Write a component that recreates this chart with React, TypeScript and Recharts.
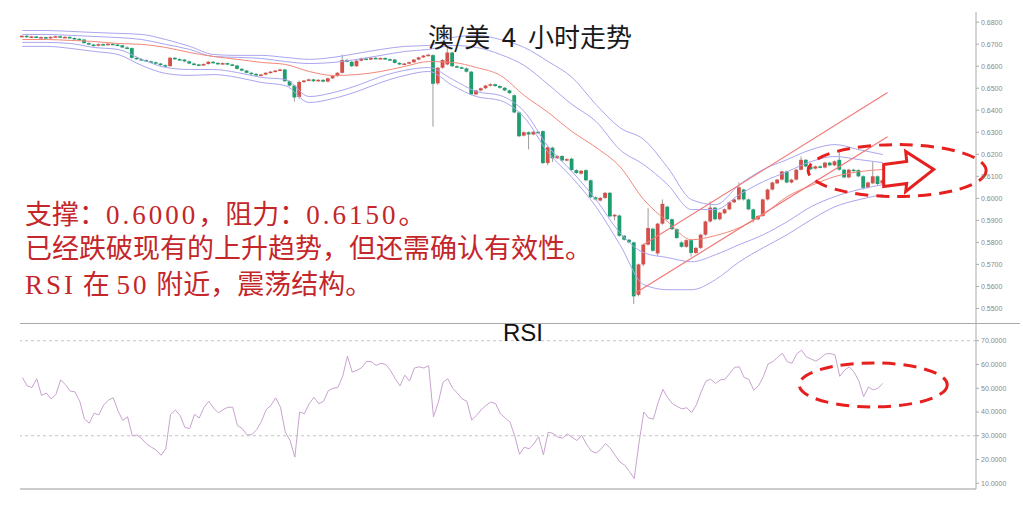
import React from "react";
import { ComposedChart, Bar, Line, XAxis, YAxis, ReferenceLine, ReferenceDot } from "recharts";

// AUD/USD 4h candles, in pips: open, high, low, close
const candles: number[][] = [
  [6735, 6741, 6731, 6738], [6738, 6741, 6730, 6733], [6733, 6738, 6729, 6735], [6735, 6737, 6727, 6730],
  [6730, 6735, 6727, 6732], [6732, 6734, 6724, 6727], [6727, 6736, 6725, 6733], [6733, 6739, 6731, 6736],
  [6736, 6738, 6728, 6731], [6731, 6736, 6729, 6733], [6733, 6735, 6725, 6728], [6728, 6731, 6721, 6724],
  [6724, 6727, 6717, 6721], [6721, 6723, 6702, 6705], [6705, 6708, 6695, 6698], [6698, 6701, 6689, 6693],
  [6693, 6703, 6690, 6700], [6700, 6703, 6694, 6697], [6697, 6705, 6694, 6702], [6702, 6704, 6695, 6698],
  [6698, 6701, 6692, 6695], [6695, 6697, 6682, 6685], [6685, 6690, 6677, 6680], [6682, 6685, 6634, 6638],
  [6638, 6642, 6629, 6632], [6632, 6636, 6625, 6628], [6628, 6631, 6619, 6622], [6622, 6626, 6615, 6618],
  [6618, 6621, 6609, 6612], [6612, 6615, 6602, 6605], [6605, 6608, 6596, 6600], [6600, 6642, 6598, 6638],
  [6638, 6641, 6629, 6632], [6632, 6636, 6627, 6630], [6630, 6633, 6619, 6622], [6622, 6625, 6609, 6612],
  [6612, 6615, 6604, 6608], [6608, 6611, 6601, 6605], [6605, 6613, 6602, 6610], [6610, 6624, 6607, 6620],
  [6620, 6623, 6612, 6615], [6615, 6618, 6607, 6610], [6610, 6617, 6607, 6614], [6614, 6616, 6605, 6608],
  [6608, 6611, 6600, 6603], [6603, 6606, 6585, 6588], [6588, 6591, 6577, 6580], [6580, 6583, 6567, 6570],
  [6570, 6573, 6562, 6565], [6565, 6568, 6555, 6558], [6558, 6565, 6555, 6562], [6562, 6573, 6559, 6570],
  [6570, 6578, 6567, 6575], [6575, 6583, 6572, 6580], [6580, 6589, 6577, 6585], [6585, 6588, 6528, 6532],
  [6532, 6535, 6508, 6512], [6512, 6515, 6440, 6458], [6460, 6535, 6452, 6528], [6528, 6538, 6524, 6535],
  [6535, 6544, 6531, 6540], [6540, 6543, 6528, 6532], [6532, 6541, 6529, 6538], [6538, 6541, 6526, 6530],
  [6530, 6548, 6527, 6545], [6545, 6558, 6542, 6555], [6555, 6573, 6552, 6570], [6570, 6652, 6567, 6628],
  [6628, 6634, 6617, 6620], [6620, 6623, 6596, 6600], [6600, 6628, 6597, 6625], [6625, 6639, 6622, 6635],
  [6635, 6638, 6627, 6630], [6630, 6641, 6627, 6638], [6638, 6641, 6631, 6634], [6634, 6640, 6631, 6637],
  [6637, 6640, 6629, 6632], [6632, 6635, 6627, 6630], [6630, 6633, 6612, 6615], [6615, 6618, 6605, 6608],
  [6608, 6615, 6605, 6612], [6612, 6621, 6609, 6618], [6618, 6633, 6615, 6630], [6630, 6643, 6627, 6640],
  [6640, 6651, 6637, 6648], [6648, 6656, 6645, 6652], [6650, 6654, 6325, 6520], [6522, 6596, 6515, 6593],
  [6593, 6632, 6588, 6628], [6608, 6688, 6604, 6662], [6662, 6666, 6596, 6600], [6600, 6604, 6591, 6595],
  [6595, 6599, 6586, 6590], [6590, 6594, 6571, 6575], [6575, 6578, 6468, 6472], [6472, 6493, 6468, 6490],
  [6490, 6503, 6486, 6500], [6500, 6515, 6496, 6512], [6512, 6522, 6508, 6518], [6518, 6521, 6506, 6510],
  [6510, 6513, 6498, 6502], [6502, 6505, 6486, 6490], [6490, 6493, 6474, 6478], [6468, 6472, 6386, 6390],
  [6390, 6394, 6278, 6282], [6285, 6304, 6281, 6300], [6300, 6304, 6222, 6290], [6290, 6306, 6286, 6302],
  [6302, 6306, 6294, 6298], [6305, 6309, 6156, 6160], [6160, 6236, 6150, 6232], [6230, 6234, 6165, 6182],
  [6182, 6196, 6178, 6192], [6192, 6196, 6168, 6172], [6172, 6182, 6168, 6178], [6180, 6184, 6124, 6128],
  [6128, 6132, 6111, 6115], [6112, 6129, 6108, 6125], [6128, 6132, 6078, 6082], [6082, 6086, 6001, 6005],
  [6005, 6009, 5991, 5995], [5990, 6006, 5986, 6002], [6002, 6029, 5998, 6025], [6025, 6029, 5914, 5918],
  [5918, 5929, 5900, 5925], [5922, 5926, 5826, 5830], [5830, 5834, 5808, 5812], [5812, 5816, 5796, 5800],
  [5800, 5804, 5520, 5555], [5562, 5704, 5555, 5700], [5700, 5794, 5692, 5790], [5790, 5955, 5786, 5865],
  [5862, 5866, 5758, 5762], [5750, 5889, 5740, 5885], [5885, 5995, 5880, 5975], [5962, 5966, 5900, 5905],
  [5905, 5909, 5856, 5860], [5860, 5864, 5816, 5820], [5800, 5805, 5776, 5780], [5780, 5814, 5776, 5810],
  [5810, 5814, 5735, 5752], [5752, 5779, 5748, 5775], [5775, 5839, 5770, 5835], [5835, 5899, 5830, 5895],
  [5895, 5985, 5890, 5958], [5958, 5962, 5900, 5905], [5905, 5939, 5900, 5935], [5932, 5954, 5928, 5950],
  [5950, 5986, 5946, 5982], [5982, 5999, 5978, 5995], [5995, 6072, 5990, 6050], [6040, 6044, 5990, 5995],
  [5995, 5999, 5946, 5950], [5950, 5954, 5890, 5905], [5905, 5924, 5900, 5920], [5920, 5999, 5916, 5995],
  [5995, 6044, 5990, 6040], [6040, 6076, 6036, 6072], [6068, 6089, 6064, 6085], [6085, 6126, 6081, 6122],
  [6122, 6126, 6068, 6072], [6072, 6089, 6068, 6085], [6085, 6134, 6081, 6130], [6130, 6190, 6126, 6175],
  [6175, 6179, 6141, 6145], [6145, 6149, 6128, 6132], [6135, 6149, 6131, 6145], [6145, 6150, 6136, 6140],
  [6140, 6166, 6136, 6162], [6162, 6166, 6146, 6150], [6150, 6172, 6146, 6168], [6175, 6210, 6126, 6130],
  [6130, 6134, 6091, 6095], [6095, 6134, 6091, 6130], [6130, 6134, 6121, 6125], [6128, 6132, 6096, 6100],
  [6100, 6104, 6040, 6048], [6048, 6076, 6044, 6072], [6068, 6165, 6064, 6100], [6100, 6104, 6061, 6065],
  [6068, 6086, 6064, 6082],
];

// band readings every 5th candle, in pips
const bandAt = [0, 5, 10, 15, 20, 25, 30, 35, 40, 45, 50, 55, 60, 65, 70, 75, 80, 85, 90, 95, 100,
  105, 110, 115, 120, 125, 130, 135, 140, 145, 150, 155, 160, 165, 170, 175, 180];
const outerUp = [6762, 6762, 6758, 6753, 6749, 6744, 6721, 6690, 6653, 6649, 6649, 6640, 6631, 6640, 6658,
  6676, 6690, 6694, 6730, 6740, 6721, 6685, 6621, 6549, 6426, 6321, 6267, 6140, 5994, 5971, 6062, 6131,
  6176, 6221, 6244, 6221, 6199];
const innerUp = [6744, 6744, 6740, 6735, 6730, 6721, 6699, 6676, 6644, 6640, 6635, 6621, 6612, 6617, 6631,
  6649, 6667, 6676, 6694, 6685, 6653, 6603, 6517, 6426, 6349, 6221, 6153, 6062, 5949, 5949, 6017, 6076,
  6121, 6167, 6190, 6176, 6162];
const midAvg = [6721, 6721, 6717, 6712, 6703, 6699, 6685, 6662, 6644, 6631, 6617, 6608, 6576, 6558, 6562,
  6576, 6599, 6621, 6617, 6594, 6558, 6467, 6390, 6303, 6231, 6144, 5994, 5894, 5812, 5831, 5867, 5926,
  6008, 6058, 6099, 6121, 6131];
const innerLow = [6708, 6708, 6703, 6685, 6676, 6631, 6594, 6585, 6585, 6571, 6549, 6540, 6462, 6480, 6512,
  6553, 6581, 6594, 6540, 6485, 6467, 6394, 6235, 6121, 5994, 5844, 5753, 5731, 5712, 5744, 5790, 5835,
  5894, 5962, 6008, 6040, 6062];
const outerLow = [6690, 6690, 6681, 6667, 6653, 6603, 6567, 6558, 6562, 6549, 6526, 6512, 6435, 6453, 6485,
  6526, 6558, 6576, 6512, 6462, 6444, 6367, 6208, 6094, 5962, 5790, 5608, 5585, 5585, 5631, 5712, 5776,
  5835, 5903, 5962, 5994, 6017];

const rsi = [
  54.5, 51, 50.3, 54, 47, 48, 45.5, 47.3, 53.5, 51.5,
  48.8, 48.5, 44.5, 37, 35.3, 39.5, 38.8, 42.9, 45, 46,
  40.5, 36.4, 38, 30, 30.3, 28.7, 26.5, 25.2, 24, 21.8,
  24.5, 39, 40.8, 38.5, 33.5, 33, 39, 37.5, 42, 44.5,
  41.7, 39.6, 41, 42, 42, 34.3, 33, 30.3, 30.5, 32.5,
  36, 41, 42.8, 46, 42, 31.5, 28, 21, 40, 39.3,
  43.5, 46.2, 43.5, 44.5, 49, 50, 50.3, 55, 63.5, 56.8,
  57.5, 58.7, 61.3, 61.2, 59.6, 60.5, 60, 57.5, 54, 51,
  55.5, 53, 58.5, 59, 58.5, 59.5, 38, 44, 52.5, 54,
  50, 48, 45.5, 44.5, 36.6, 38.6, 41, 42.8, 44.2, 43.5,
  39.3, 37.5, 35.8, 30, 22.2, 25.2, 24.5, 26.6, 29.6, 22,
  31.5, 31, 29.5, 29, 30.8, 29.3, 28, 30.2, 26.5, 23.6,
  22.7, 24.3, 26.7, 24.8, 21.8, 19, 17.6, 15, 12, 27,
  40, 37.5, 37, 44, 49.5, 46, 43.5, 42.3, 41.3, 41.8,
  39.7, 43, 48.5, 53, 53.8, 52, 53.5, 53.8, 56.3, 58.8,
  59, 54.5, 53.7, 49.2, 51, 54.8, 60.2, 61.2, 63, 64.7,
  61.2, 60.5, 64.5, 66, 63.2, 62.3, 61.4, 62.7, 64.4, 64.6,
  64, 55, 57.6, 59, 56.8, 53, 46.5, 50.5, 49.3, 50,
  52,
];

const priceTicks = [0.55, 0.56, 0.57, 0.58, 0.59, 0.6, 0.61, 0.62, 0.63, 0.64, 0.65, 0.66, 0.67, 0.68];
const rsiTicks = [10, 20, 30, 40, 50, 60, 70];
const SLOTS = 200;

const GREEN = "#1e9e6e";
const RED = "#d4504a";
const PURPLE = "#aaa6ef";
const ANNOT = "#e5201e";

const rows = Array.from({ length: SLOTS }, (_, i) => {
  const row: any = { i };
  const k = candles[i];
  if (k) {
    const [o, h, l, c] = k.map((v) => v / 10000);
    Object.assign(row, { o, h, l, c, range: [l, h] });
  }
  const b = bandAt.indexOf(i);
  if (b >= 0) {
    row.u2 = outerUp[b] / 10000;
    row.u1 = innerUp[b] / 10000;
    row.ma = midAvg[b] / 10000;
    row.l1 = innerLow[b] / 10000;
    row.l2 = outerLow[b] / 10000;
  }
  if (i < rsi.length) row.rsi = rsi[i];
  return row;
});

function Candle(props: any) {
  const { x, y, width, height, payload } = props;
  if (!payload || payload.h == null || !isFinite(y) || !isFinite(height)) return null;
  const { o, h, l, c } = payload;
  const k = height / (h - l || 1);
  const py = (v: number) => y + (h - v) * k;
  const top = py(Math.max(o, c));
  const bot = py(Math.min(o, c));
  const mid = x + width / 2;
  return (
    <g>
      <line x1={mid} x2={mid} y1={y} y2={y + height} stroke="#9c9c9c" strokeWidth={1} />
      <rect x={x} y={top} width={width} height={Math.max(1.5, bot - top)} fill={c >= o ? RED : GREEN} />
    </g>
  );
}

const dashedEllipse = (rx: number, ry: number) => (p: any) => (
  <ellipse cx={p.cx} cy={p.cy} rx={rx} ry={ry} fill="none" stroke={ANNOT} strokeWidth={3} strokeDasharray="13 8" />
);

const arrowShape = (p: any) => {
  const pts = [[-23, -7], [0, -10], [-1, -20], [27, -2], [-1, 20], [0, 12], [-23, 15]]
    .map(([dx, dy]) => `${p.cx + dx},${p.cy + dy}`)
    .join(" ");
  return <polygon points={pts} fill="#fff" stroke={ANNOT} strokeWidth={3} strokeLinejoin="miter" />;
};

const tickStyle = { fontSize: 7, fill: "#888", fontFamily: "Liberation Sans" };
const num = { letterSpacing: 3 };

export default function App() {
  const bandLine = (key: string, color: string) => (
    <Line
      dataKey={key}
      type="monotone"
      stroke={color}
      strokeWidth={1}
      dot={false}
      connectNulls
      isAnimationActive={false}
    />
  );
  return (
    <div style={{ position: "absolute", left: 0, top: 0, width: 1023, height: 520, background: "#fff", fontFamily: "Liberation Sans" }}>
      <div style={{ position: "absolute", left: 0, top: 0 }}>
        <ComposedChart width={1023} height={323} data={rows} margin={{ top: 12, right: 0, left: 20, bottom: 0 }}>
          <XAxis dataKey="i" type="category" hide />
          <YAxis
            orientation="right"
            width={47}
            domain={[0.5434, 0.6846]}
            allowDataOverflow
            ticks={priceTicks}
            tickFormatter={(v: number) => v.toFixed(4)}
            tick={tickStyle}
            tickSize={3}
            axisLine={{ stroke: "#aaa" }}
            tickLine={{ stroke: "#aaa" }}
          />
          <Bar dataKey="range" barSize={3.8} shape={<Candle />} isAnimationActive={false} />
          {bandLine("u2", PURPLE)}
          {bandLine("u1", PURPLE)}
          {bandLine("l1", PURPLE)}
          {bandLine("l2", PURPLE)}
          {bandLine("ma", "#f2887a")}
          <ReferenceLine segment={[{ x: 130, y: 0.579 }, { x: 181, y: 0.648 }]} stroke="#f07a78" strokeWidth={1.2} ifOverflow="visible" />
          <ReferenceLine segment={[{ x: 128, y: 0.5567 }, { x: 181, y: 0.628 }]} stroke="#f07a78" strokeWidth={1.2} ifOverflow="visible" />
          <ReferenceDot x={183} y={0.6126} shape={dashedEllipse(89, 26)} ifOverflow="visible" />
          <ReferenceDot x={185} y={0.6122} shape={arrowShape} ifOverflow="visible" />
        </ComposedChart>
      </div>
      <div style={{ position: "absolute", left: 20, top: 323, width: 1000, height: 1, background: "#aaa" }} />
      <div style={{ position: "absolute", left: 0, top: 323 }}>
        <ComposedChart width={1023} height={167} data={rows} margin={{ top: 0, right: 0, left: 20, bottom: 0 }}>
          <XAxis dataKey="i" type="category" scale="band" height={1} tick={false} tickLine={false} axisLine={{ stroke: "#999" }} />
          <YAxis
            orientation="right"
            width={47}
            domain={[7.6, 77.45]}
            allowDataOverflow
            ticks={rsiTicks}
            tickFormatter={(v: number) => v.toFixed(4)}
            tick={tickStyle}
            tickSize={3}
            axisLine={{ stroke: "#aaa" }}
            tickLine={{ stroke: "#aaa" }}
          />
          <Bar dataKey="none" isAnimationActive={false} />
          <ReferenceLine y={70} stroke="#c4c4c4" strokeDasharray="3 3" />
          <ReferenceLine y={30} stroke="#c4c4c4" strokeDasharray="3 3" />
          <Line dataKey="rsi" type="linear" stroke="#c9a3d0" strokeWidth={1} dot={false} isAnimationActive={false} />
          <ReferenceDot x={178} y={51.4} shape={dashedEllipse(74, 22)} ifOverflow="visible" />
        </ComposedChart>
      </div>
      <svg width={1023} height={520} style={{ position: "absolute", left: 0, top: 0, pointerEvents: "none" }}>
        <text x={428} y={47} fontSize={26} fill="#1a1a1a" fontFamily="'Noto Sans CJK SC'" style={{ whiteSpace: "pre" }}>
          {"澳/美  4  小时走势"}
        </text>
        <g fill="#c4262a" fontSize={27} fontFamily="'Liberation Serif', 'Noto Sans CJK SC'">
          <text x={25} y={224}>
            支撑：<tspan style={num}>0.6000</tspan>，阻力：<tspan style={num}>0.6150</tspan>。
          </text>
          <text x={25} y={258}>已经跌破现有的上升趋势，但还需确认有效性。</text>
          <text x={25} y={294} style={{ whiteSpace: "pre" }}>
            <tspan style={num}>RSI</tspan> 在 <tspan style={num}>50</tspan> 附近，震荡结构。
          </text>
        </g>
        <text x={503} y={341} fontSize={24} fill="#111" fontFamily="'Liberation Sans'">
          RSI
        </text>
      </svg>
    </div>
  );
}
